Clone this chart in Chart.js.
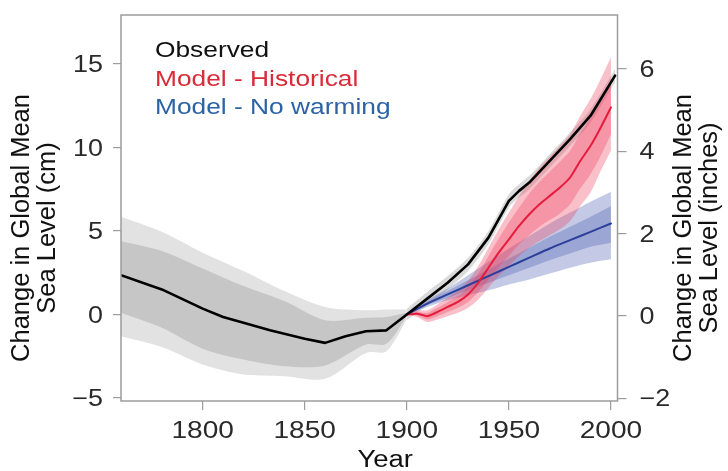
<!DOCTYPE html>
<html>
<head>
<meta charset="utf-8">
<script src="https://cdn.jsdelivr.net/npm/chart.js@4/dist/chart.umd.min.js"></script>
<style>
  html, body { margin: 0; padding: 0; background: #fff; }
  #wrap { width: 728px; height: 471px; position: relative; }
</style>
</head>
<body>
<div id="wrap"><canvas id="c" width="728" height="471"></canvas></div>
<script>
// ---------------- DATA ----------------
const X_TICKS = [1800, 1850, 1900, 1950, 2000];
const Y_TICKS = [-5, 0, 5, 10, 15];
const Y_TICK_LABELS = ["\u22125", "0", "5", "10", "15"];
const Y2_TICKS = [-2, 0, 2, 4, 6];
const Y2_TICK_LABELS = ["\u22122", "0", "2", "4", "6"];

// Observed (cm)
const obsYears  = [1760, 1780, 1800, 1810, 1820, 1833, 1840, 1850, 1860, 1870, 1880, 1890, 1900, 1910, 1920, 1930, 1940, 1950, 1955, 1960, 1970, 1980, 1990, 2002];
const obsValues = [2.35, 1.5, 0.35, -0.15, -0.5, -0.94, -1.15, -1.45, -1.7, -1.3, -1.0, -0.95, 0, 0.95, 1.9, 3.0, 4.6, 6.8, 7.4, 7.9, 9.2, 10.5, 11.9, 14.3];

// Observed uncertainty, pre-1900 (reconstruction)
const recYears   = [1760, 1780, 1800, 1820, 1840, 1860, 1880, 1890, 1900];
const recOuterHi = [5.85, 4.95, 3.7, 2.6, 1.4, 0.45, 0.25, 0.3, 0.3];
const recOuterLo = [-1.3, -1.95, -3.0, -3.6, -3.7, -3.85, -2.3, -2.2, -0.3];
const recInnerHi = [4.4, 3.8, 2.75, 1.7, 0.8, -0.35, -0.2, -0.15, 0.1];
const recInnerLo = [0.1, -0.8, -2.05, -2.7, -3.1, -3.05, -1.8, -1.75, -0.1];

// Observed uncertainty, post-1900 (tide gauges)
const tgYears = [1900, 1910, 1920, 1930, 1940, 1950, 1955, 1960, 1970, 1980, 1990, 2002];
const tgHi    = [0.35, 1.35, 2.3, 3.4, 5.0, 7.2, 7.8, 8.3, 9.6, 10.9, 12.3, 14.7];
const tgLo    = [-0.35, 0.55, 1.5, 2.6, 4.2, 6.4, 7.0, 7.5, 8.8, 10.1, 11.5, 13.9];

// Model - Historical (cm)
const histYears   = [1900, 1905, 1910, 1915, 1920, 1925, 1930, 1935, 1940, 1945, 1950, 1955, 1960, 1965, 1970, 1975, 1980, 1985, 1990, 1995, 2000];
const histValues  = [0, 0.05, -0.1, 0.15, 0.45, 0.75, 1.2, 1.9, 2.8, 3.7, 4.5, 5.3, 6.0, 6.6, 7.1, 7.6, 8.2, 9.2, 10.1, 11.2, 12.4];
const histOuterHi = [0, 0.25, 0.25, 0.6, 1.0, 1.4, 2.0, 2.9, 4.0, 5.1, 6.1, 7.1, 8.0, 8.8, 9.45, 10.1, 10.8, 11.9, 12.9, 14.1, 15.4];
const histOuterLo = [0, -0.15, -0.45, -0.3, -0.1, 0.1, 0.4, 0.9, 1.6, 2.3, 2.9, 3.5, 4.0, 4.4, 4.75, 5.1, 5.6, 6.5, 7.3, 8.6, 9.8];
const histInnerHi = [0, 0.15, 0.1, 0.4, 0.75, 1.1, 1.65, 2.45, 3.5, 4.55, 5.5, 6.4, 7.25, 7.95, 8.55, 9.15, 9.8, 10.85, 11.8, 12.9, 14.0];
const histInnerLo = [0, -0.05, -0.3, -0.1, 0.15, 0.4, 0.75, 1.35, 2.1, 2.85, 3.5, 4.2, 4.75, 5.25, 5.65, 6.05, 6.6, 7.55, 8.4, 9.5, 10.8];

// Model - No warming (cm)
const nwYears   = [1900, 1910, 1920, 1930, 1940, 1950, 1960, 1970, 1980, 1990, 2000];
const nwValues  = [0, 0.65, 1.2, 1.75, 2.3, 2.85, 3.4, 3.95, 4.45, 4.95, 5.45];
const nwOuterHi = [0, 0.85, 1.55, 2.35, 3.15, 3.95, 4.7, 5.45, 6.1, 6.75, 7.35];
const nwOuterLo = [0, 0.45, 0.85, 1.15, 1.45, 1.8, 2.1, 2.45, 2.8, 3.1, 3.3];
const nwInnerHi = [0, 0.75, 1.4, 2.05, 2.7, 3.35, 4.0, 4.65, 5.25, 5.85, 6.5];
const nwInnerLo = [0, 0.55, 1.0, 1.45, 1.9, 2.35, 2.8, 3.25, 3.65, 4.05, 4.3];

const LEGEND = ["Observed", "Model - Historical", "Model - No warming"];
const LEGEND_COLORS = ["#111111", "#d92a37", "#2d63a5"];
const Y_TITLE = ["Change in Global Mean", "Sea Level (cm)"];
const Y2_TITLE = ["Change in Global Mean", "Sea Level (inches)"];
const X_TITLE = "Year";

// ---------------- HELPERS ----------------
const pts = (xs, ys) => xs.map((x, i) => ({ x: x, y: ys[i] }));
const FONT = "'Liberation Sans', Arial, Helvetica, sans-serif";
const FRAME = "#9c9c9c";
const SX = 1.17; // horizontal text stretch seen in the reference

function band(xs, hi, lo, color, order) {
  return [
    { data: pts(xs, hi), borderWidth: 0, pointRadius: 0, fill: '+1', backgroundColor: color, order: order, tension: 0.3 },
    { data: pts(xs, lo), borderWidth: 0, pointRadius: 0, fill: false, order: order, tension: 0.3 }
  ];
}
function line(xs, ys, color, w, order, tension) {
  return { data: pts(xs, ys), borderColor: color, borderWidth: w, pointRadius: 0, fill: false, order: order, tension: tension, borderJoinStyle: 'round', borderCapStyle: 'round' };
}

const datasets = [
  ...band(recYears, recOuterHi, recOuterLo, "#e2e2e2", 20),
  ...band(recYears, recInnerHi, recInnerLo, "#c6c6c6", 19),
  ...band(tgYears, tgHi, tgLo, "rgba(150,150,150,0.35)", 18),
  ...band(nwYears, nwOuterHi, nwOuterLo, "rgba(70,90,175,0.32)", 17),
  ...band(nwYears, nwInnerHi, nwInnerLo, "rgba(70,90,175,0.32)", 16),
  ...band(histYears, histOuterHi, histOuterLo, "rgba(236,60,90,0.32)", 15),
  ...band(histYears, histInnerHi, histInnerLo, "rgba(236,60,90,0.32)", 14),
  line(nwYears, nwValues, "#2c3f9a", 2, 3, 0.2),
  line(histYears, histValues, "#e61c3c", 2, 2, 0.2),
  line(obsYears, obsValues, "#000000", 2.6, 1, 0)
];

// ---------------- PLUGINS ----------------
function txt(ctx, t, x, y, align, size, color) {
  ctx.save();
  ctx.translate(x, y);
  ctx.scale(SX, 1);
  ctx.font = size + "px " + FONT;
  ctx.fillStyle = color;
  ctx.textAlign = align;
  ctx.textBaseline = "alphabetic";
  ctx.fillText(t, 0, 0);
  ctx.restore();
}

const decor = {
  id: 'decor',
  afterDraw(chart) {
    const ctx = chart.ctx, a = chart.chartArea;
    const sx = chart.scales.x, sy = chart.scales.y, sy2 = chart.scales.y2;
    ctx.save();
    // frame
    ctx.strokeStyle = FRAME;
    ctx.lineWidth = 1.5;
    ctx.strokeRect(a.left, a.top, a.right - a.left, a.bottom - a.top);
    // tick labels
    const TS = 23, TC = "#2a2a2a";
    Y_TICKS.forEach((v, i) => txt(ctx, Y_TICK_LABELS[i], a.left - 18, sy.getPixelForValue(v) + TS * 0.36, "right", TS, TC));
    Y2_TICKS.forEach((v, i) => txt(ctx, Y2_TICK_LABELS[i], a.right + 22, sy2.getPixelForValue(v) + TS * 0.36, "left", TS, TC));
    X_TICKS.forEach(v => txt(ctx, String(v), sx.getPixelForValue(v), 438, "center", 24, TC));
    // legend
    LEGEND.forEach((t, i) => txt(ctx, t, a.left + 34, 57 + i * 28.5, "left", 22.5, LEGEND_COLORS[i]));
    // x title
    txt(ctx, X_TITLE, (a.left + a.right) / 2 + 16, 467, "center", 23.5, "#111");
    // y titles (rotated)
    ctx.fillStyle = "#111";
    ctx.font = "25.5px " + FONT;
    ctx.textAlign = "center";
    ctx.textBaseline = "middle";
    const drawRot = (lines, cx, cy) => {
      ctx.save();
      ctx.translate(cx, cy);
      ctx.rotate(-Math.PI / 2);
      lines.forEach((t, i) => ctx.fillText(t, 0, (i - (lines.length - 1) / 2) * 26));
      ctx.restore();
    };
    drawRot(Y_TITLE, 35, 228);
    drawRot(Y2_TITLE, 697, 228);
    ctx.restore();
  }
};

// ---------------- CHART ----------------
Chart.defaults.font.family = FONT;
new Chart(document.getElementById('c'), {
  type: 'line',
  data: { datasets: datasets },
  options: {
    responsive: false,
    animation: false,
    events: [],
    layout: { padding: { top: 15, left: 0, right: 0, bottom: 0 } },
    plugins: { legend: { display: false }, tooltip: { enabled: false }, filler: { propagate: false } },
    scales: {
      x: {
        type: 'linear', min: 1760, max: 2003.2,
        afterBuildTicks: s => { s.ticks = X_TICKS.map(v => ({ value: v })); },
        afterFit: s => { s.height = 70; s.paddingLeft = 0; s.paddingRight = 0; },
        ticks: { display: false },
        grid: { display: true, drawOnChartArea: false, drawTicks: true, tickLength: 9, color: FRAME, lineWidth: 1.2 },
        border: { display: false }
      },
      y: {
        type: 'linear', position: 'left', min: -5.18, max: 17.93,
        afterBuildTicks: s => { s.ticks = Y_TICKS.map(v => ({ value: v })); },
        afterFit: s => { s.width = 121; s.paddingTop = 0; s.paddingBottom = 0; },
        ticks: { display: false },
        grid: { display: true, drawOnChartArea: false, drawTicks: true, tickLength: 8, color: FRAME, lineWidth: 1.2 },
        border: { display: false }
      },
      y2: {
        type: 'linear', position: 'right', min: -2.07, max: 7.31,
        afterBuildTicks: s => { s.ticks = Y2_TICKS.map(v => ({ value: v })); },
        afterFit: s => { s.width = 110.5; s.paddingTop = 0; s.paddingBottom = 0; },
        ticks: { display: false },
        grid: { display: true, drawOnChartArea: false, drawTicks: true, tickLength: 9, color: FRAME, lineWidth: 1.2 },
        border: { display: false }
      }
    }
  },
  plugins: [decor]
});
</script>
</body>
</html>
